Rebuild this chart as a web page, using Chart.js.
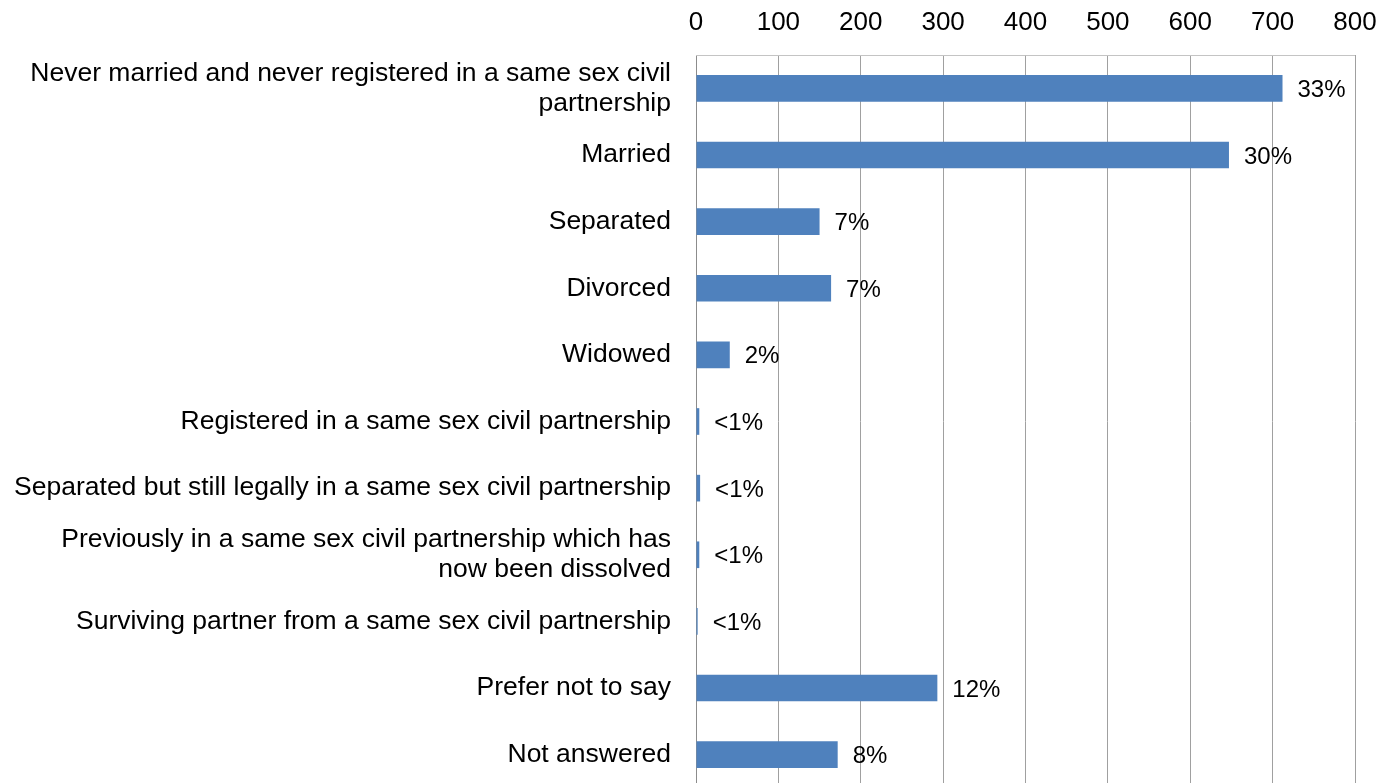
<!DOCTYPE html>
<html>
<head>
<meta charset="utf-8">
<title>Marital status</title>
<script src="https://cdn.jsdelivr.net/npm/chart.js@4/dist/chart.umd.min.js"></script>
<style>
  html, body { margin: 0; padding: 0; background: #fff; overflow: hidden; }
  canvas { display: block; }
</style>
</head>
<body>
<canvas id="chart" width="1381" height="789"></canvas>
<script>
// categories, top to bottom
const categories = [
  ["Never married and never registered in a same sex civil", "partnership"],
  "Married",
  "Separated",
  "Divorced",
  "Widowed",
  "Registered in a same sex civil partnership",
  "Separated but still legally in a same sex civil partnership",
  ["Previously in a same sex civil partnership which has", "now been dissolved"],
  "Surviving partner from a same sex civil partnership",
  "Prefer not to say",
  "Not answered"
];
// number of respondents
const counts = [712, 647, 150, 164, 41, 4, 5, 4, 2, 293, 172];
// percentage shown beside each bar
const shares = ["33%", "30%", "7%", "7%", "2%", "<1%", "<1%", "<1%", "<1%", "12%", "8%"];

const axisMax = 800;
const axisStep = 100;

const FONT = "'Liberation Sans', Arial, sans-serif";

// writes the percentage just past the end of each bar
const shareLabels = {
  id: "shareLabels",
  afterDatasetsDraw(chart) {
    const ctx = chart.ctx;
    const bars = chart.getDatasetMeta(0).data;
    ctx.save();
    ctx.font = "24px " + FONT;
    ctx.fillStyle = "#000";
    ctx.textAlign = "left";
    ctx.textBaseline = "middle";
    bars.forEach((bar, i) => {
      ctx.fillText(shares[i], bar.x + 15, bar.y + 2);
    });
    ctx.restore();
  }
};

// light top edge of the plot frame
const frameTop = {
  id: "frameTop",
  beforeDatasetsDraw(chart) {
    const a = chart.chartArea;
    const ctx = chart.ctx;
    ctx.save();
    ctx.strokeStyle = "#c4c4c4";
    ctx.lineWidth = 1;
    ctx.beginPath();
    ctx.moveTo(a.left, a.top + 0.5);
    ctx.lineTo(a.right, a.top + 0.5);
    ctx.stroke();
    ctx.restore();
  }
};

const chart = new Chart(document.getElementById("chart"), {
  type: "bar",
  plugins: [shareLabels, frameTop],
  data: {
    labels: categories,
    datasets: [{
      data: counts,
      backgroundColor: "#4f81bd",
      borderWidth: 0,
      categoryPercentage: 1,
      barPercentage: 0.4
    }]
  },
  options: {
    indexAxis: "y",
    responsive: false,
    animation: false,
    layout: { padding: { left: 0, right: 26, top: 0, bottom: 1 } },
    plugins: {
      legend: { display: false },
      tooltip: { enabled: false }
    },
    scales: {
      x: {
        position: "top",
        min: 0,
        max: axisMax,
        ticks: {
          stepSize: axisStep,
          padding: 17,
          color: "#000",
          font: { family: FONT, size: 26 }
        },
        grid: {
          color: "#a0a0a0",
          lineWidth: 1,
          drawTicks: false
        },
        border: { display: false },
        afterFit(scale) {
          scale.height = 55;
          // let the last tick label hang past the plot edge
          scale.paddingLeft = 0;
          scale.paddingRight = 0;
        }
      },
      y: {
        ticks: {
          padding: 25,
          color: "#000",
          autoSkip: false,
          font: { family: FONT, size: 26.5, lineHeight: 1.13 }
        },
        grid: { display: false, drawTicks: false },
        border: { display: true, color: "#8c8c8c", width: 1 },
        afterFit(scale) {
          scale.width = 696;
          scale.paddingTop = 0;
          scale.paddingBottom = 0;
        }
      }
    }
  }
});
</script>
</body>
</html>
